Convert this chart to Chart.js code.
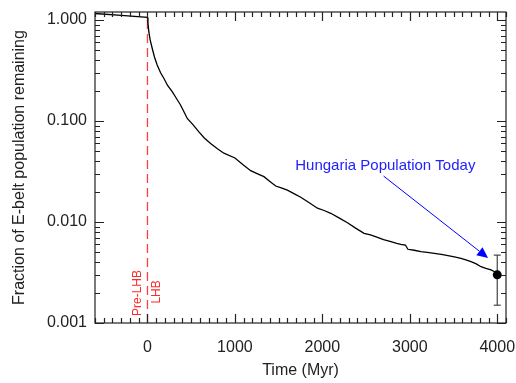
<!DOCTYPE html>
<html>
<head>
<meta charset="utf-8">
<script src="https://cdn.jsdelivr.net/npm/chart.js@4.4.1/dist/chart.umd.min.js"></script>
<style>
  html, body { margin: 0; padding: 0; background: #fff; }
</style>
</head>
<body>
<canvas id="c" width="516" height="383"></canvas>
<script>
// E-belt decay curve
const timeMyr = [-600, -300, 0, 5, 15, 30, 54, 80, 111, 150, 187, 230, 283, 330, 378, 420, 455, 520, 588, 650,
  722, 800, 874, 1000, 1090, 1180, 1260, 1332, 1400, 1466, 1530, 1600, 1680, 1753, 1850, 1944, 2020, 2096,
  2190, 2287, 2380, 2477, 2550, 2631, 2700, 2784, 2850, 2898, 2950, 2978, 3050, 3127, 3200, 3280, 3360,
  3436, 3510, 3585, 3650, 3700, 3760, 3814, 3870, 3929, 3970, 4000];
const fracRemaining = [1.16, 1.11, 1.06, 0.95, 0.77, 0.64, 0.525, 0.43, 0.358, 0.30, 0.265, 0.225, 0.195, 0.168,
  0.144, 0.122, 0.106, 0.092, 0.078, 0.068, 0.060, 0.053, 0.048, 0.043, 0.037, 0.0322, 0.0300, 0.0281, 0.0252,
  0.0227, 0.0218, 0.0207, 0.0190, 0.0176, 0.0155, 0.0137, 0.0130, 0.0122, 0.0110, 0.00984, 0.0087, 0.00773,
  0.00745, 0.00706, 0.00670, 0.00638, 0.00615, 0.00601, 0.00592, 0.00537, 0.00525, 0.00508, 0.00500, 0.00490,
  0.00478, 0.00464, 0.00452, 0.00437, 0.00420, 0.00405, 0.00385, 0.00361, 0.00348, 0.00336, 0.00322, 0.00311];

const xMajorTicks = [0, 1000, 2000, 3000, 4000];
const yMajorTicks = [0.001, 0.01, 0.1, 1];
const yTickLabels = ["0.001", "0.010", "0.100", "1.000"];

// LHB start marker
const lhbTime = [0, 0];
const lhbFrac = [1.0, 0.001];

// Hungaria today with error bar
const hungariaTime = [4000];
const hungariaFrac = [0.003];
const hungariaErr = [0.0015, 0.0047];

// annotation arrow + label (data coords)
const arrowFrom = [2700, 0.0285];
const arrowTo = [3895, 0.0044];
const noteText = "Hungaria Population Today";
const noteAt = [2720, 0.036];
const lhbLabels = [["Pre-LHB", -110, 0.00198], ["LHB", 110, 0.00203]];

Chart.defaults.font.family = "'Liberation Sans', Arial, Helvetica, sans-serif";
Chart.defaults.color = "#222";

// IDL-style frame with inward ticks on all four sides
const frameTicks = {
  id: "frameTicks",
  afterDraw(chart) {
    const { ctx, chartArea: a, scales: { x, y } } = chart;
    ctx.save();
    ctx.strokeStyle = "#222";
    ctx.lineWidth = 1.2;
    ctx.strokeRect(a.left, a.top, a.right - a.left, a.bottom - a.top);
    ctx.beginPath();
    for (let i = -6; i <= 41; i++) {
      const px = Math.round(x.getPixelForValue(i * 100)) + 0.5;
      const len = i % 10 === 0 ? 9 : 5;
      ctx.moveTo(px, a.bottom); ctx.lineTo(px, a.bottom - len);
      ctx.moveTo(px, a.top); ctx.lineTo(px, a.top + len);
    }
    for (let d = -3; d <= 0; d++) {
      for (let k = 1; k <= 9; k++) {
        const v = k * Math.pow(10, d);
        if (v > y.max) break;
        const py = Math.round(y.getPixelForValue(v)) + 0.5;
        const len = k === 1 ? 9 : 5;
        ctx.moveTo(a.left, py); ctx.lineTo(a.left + len, py);
        ctx.moveTo(a.right, py); ctx.lineTo(a.right - len, py);
      }
    }
    ctx.stroke();
    ctx.restore();
  }
};

const notes = {
  id: "notes",
  afterDatasetsDraw(chart) {
    const { ctx, scales: { x, y } } = chart;
    ctx.save();
    // arrow
    const x1 = x.getPixelForValue(arrowFrom[0]), y1 = y.getPixelForValue(arrowFrom[1]);
    const x2 = x.getPixelForValue(arrowTo[0]), y2 = y.getPixelForValue(arrowTo[1]);
    const ang = Math.atan2(y2 - y1, x2 - x1);
    const head = 11, half = 5;
    ctx.strokeStyle = "#0000ff";
    ctx.fillStyle = "#0000ff";
    ctx.lineWidth = 1;
    ctx.beginPath();
    ctx.moveTo(x1, y1);
    ctx.lineTo(x2 - Math.cos(ang) * head, y2 - Math.sin(ang) * head);
    ctx.stroke();
    ctx.beginPath();
    ctx.moveTo(x2, y2);
    ctx.lineTo(x2 - Math.cos(ang) * head + Math.sin(ang) * half, y2 - Math.sin(ang) * head - Math.cos(ang) * half);
    ctx.lineTo(x2 - Math.cos(ang) * head - Math.sin(ang) * half, y2 - Math.sin(ang) * head + Math.cos(ang) * half);
    ctx.closePath();
    ctx.fill();
    // label
    ctx.font = "15px 'Liberation Sans', Arial, sans-serif";
    ctx.textAlign = "center";
    ctx.textBaseline = "middle";
    ctx.fillStyle = "#2222ff";
    ctx.fillText(noteText, x.getPixelForValue(noteAt[0]), y.getPixelForValue(noteAt[1]));
    // Pre-LHB / LHB
    ctx.fillStyle = "#ff2a2a";
    ctx.font = "12px 'Liberation Sans', Arial, sans-serif";
    lhbLabels.forEach(([txt, t, f]) => {
      ctx.save();
      ctx.translate(x.getPixelForValue(t), y.getPixelForValue(f));
      ctx.rotate(-Math.PI / 2);
      ctx.fillText(txt, 0, 0);
      ctx.restore();
    });
    ctx.restore();
  }
};

new Chart(document.getElementById("c").getContext("2d"), {
  type: "line",
  data: {
    datasets: [
      {
        type: "scatter",
        data: hungariaTime.map((t, i) => ({ x: t, y: hungariaFrac[i] })),
        pointRadius: 4.5, backgroundColor: "#000", borderColor: "#000", pointBorderWidth: 0
      },
      {
        data: timeMyr.map((t, i) => ({ x: t, y: fracRemaining[i] })),
        borderColor: "#000", borderWidth: 1.3, pointRadius: 0, tension: 0
      },
      {
        data: hungariaErr.map(v => ({ x: hungariaTime[0], y: v })),
        borderColor: "#444", borderWidth: 1.2, pointStyle: "line", pointRadius: 3.5,
        pointBorderColor: "#444", pointBorderWidth: 1.2
      },
      {
        data: lhbTime.map((t, i) => ({ x: t, y: lhbFrac[i] })),
        borderColor: "rgba(255,30,30,0.85)", borderWidth: 1.3, borderDash: [9, 5], pointRadius: 0
      }
    ]
  },
  options: {
    responsive: false,
    animation: false,
    layout: { padding: { top: 12, right: 10, left: 0, bottom: 0 } },
    plugins: { legend: { display: false }, tooltip: { enabled: false } },
    scales: {
      x: {
        type: "linear", min: -600, max: 4100,
        afterBuildTicks: s => { s.ticks = xMajorTicks.map(v => ({ value: v })); },
        afterFit: s => { s.height = 60; s.paddingLeft = 0; s.paddingRight = 0; },
        grid: { display: false, drawTicks: false },
        border: { display: false },
        ticks: { font: { size: 16 }, padding: 15, maxRotation: 0, autoSkip: false, callback: v => String(v) },
        title: { display: true, text: "Time (Myr)", font: { size: 16 }, padding: { top: 0, bottom: 3 } }
      },
      y: {
        type: "logarithmic", min: 0.001, max: 1.2,
        afterBuildTicks: s => { s.ticks = yMajorTicks.map(v => ({ value: v })); },
        afterFit: s => { s.width = 95; s.paddingTop = 0; s.paddingBottom = 0; },
        grid: { display: false, drawTicks: false },
        border: { display: false },
        ticks: { font: { size: 16 }, padding: 8, autoSkip: false, callback: (v, i) => yTickLabels[i] },
        title: { display: true, text: "Fraction of E-belt population remaining", font: { size: 16 }, padding: { top: 10, bottom: 0 } }
      }
    }
  },
  plugins: [frameTicks, notes]
});
</script>
</body>
</html>
